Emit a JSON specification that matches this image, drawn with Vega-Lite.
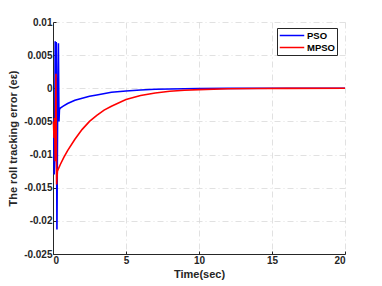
{
  "$schema": "https://vega.github.io/schema/vega-lite/v6.json",
  "autosize": "none",
  "width": 292,
  "height": 232,
  "padding": {"left": 53, "top": 22, "right": 37, "bottom": 32},
  "background": "white",
  "config": {
    "view": {"stroke": null},
    "font": "Liberation Sans",
    "axis": {
      "labelFont": "Liberation Sans", "labelFontWeight": "bold", "labelFontSize": 10, "labelColor": "#262626",
      "titleFont": "Liberation Sans", "titleFontWeight": "bold", "titleFontSize": 11, "titleColor": "#262626",
      "domainColor": "#262626", "domainWidth": 1, "tickColor": "#262626", "tickSize": -3,
      "gridColor": "#d9d9d9", "gridDash": [6, 3, 1, 3], "gridWidth": 0.8
    }
  },
  "datasets": {
    "pso": [
      {"t": 0.05, "v": -0.0047, "s": "PSO"}, {"t": 0.08, "v": -0.013, "s": "PSO"}, {"t": 0.11, "v": -0.0108, "s": "PSO"},
      {"t": 0.15, "v": 0.0071, "s": "PSO"}, {"t": 0.2, "v": -0.005, "s": "PSO"}, {"t": 0.22, "v": 0.007, "s": "PSO"},
      {"t": 0.27, "v": -0.0213, "s": "PSO"}, {"t": 0.32, "v": -0.002, "s": "PSO"}, {"t": 0.37, "v": 0.0068, "s": "PSO"},
      {"t": 0.41, "v": -0.005, "s": "PSO"}, {"t": 0.44, "v": -0.0032, "s": "PSO"}, {"t": 0.5, "v": -0.003, "s": "PSO"},
      {"t": 0.7, "v": -0.0027, "s": "PSO"}, {"t": 1.0, "v": -0.0023, "s": "PSO"}, {"t": 1.5, "v": -0.0018, "s": "PSO"},
      {"t": 2.0, "v": -0.0015, "s": "PSO"}, {"t": 2.5, "v": -0.0012, "s": "PSO"}, {"t": 3.0, "v": -0.001, "s": "PSO"},
      {"t": 4.0, "v": -0.0006, "s": "PSO"}, {"t": 5.0, "v": -0.0004, "s": "PSO"}, {"t": 6.0, "v": -0.00025, "s": "PSO"},
      {"t": 7.0, "v": -0.00015, "s": "PSO"}, {"t": 8.0, "v": -0.0001, "s": "PSO"}, {"t": 10.0, "v": -0.00004, "s": "PSO"},
      {"t": 12.0, "v": -0.00001, "s": "PSO"}, {"t": 15.0, "v": 0, "s": "PSO"}, {"t": 20.0, "v": 0, "s": "PSO"}
    ],
    "mpso": [
      {"t": 0.03, "v": -0.005, "s": "MPSO"}, {"t": 0.07, "v": -0.0075, "s": "MPSO"}, {"t": 0.11, "v": -0.0045, "s": "MPSO"},
      {"t": 0.15, "v": -0.011, "s": "MPSO"}, {"t": 0.2, "v": 0.0022, "s": "MPSO"}, {"t": 0.25, "v": -0.0145, "s": "MPSO"},
      {"t": 0.3, "v": -0.0125, "s": "MPSO"}, {"t": 0.5, "v": -0.0115, "s": "MPSO"}, {"t": 0.75, "v": -0.0104, "s": "MPSO"},
      {"t": 1.0, "v": -0.0094, "s": "MPSO"}, {"t": 1.5, "v": -0.0077, "s": "MPSO"}, {"t": 2.0, "v": -0.0062, "s": "MPSO"},
      {"t": 2.5, "v": -0.005, "s": "MPSO"}, {"t": 3.0, "v": -0.0041, "s": "MPSO"}, {"t": 3.5, "v": -0.0033, "s": "MPSO"},
      {"t": 4.0, "v": -0.0027, "s": "MPSO"}, {"t": 5.0, "v": -0.0017, "s": "MPSO"}, {"t": 6.0, "v": -0.0011, "s": "MPSO"},
      {"t": 7.0, "v": -0.0007, "s": "MPSO"}, {"t": 8.0, "v": -0.00045, "s": "MPSO"}, {"t": 9.0, "v": -0.0003, "s": "MPSO"},
      {"t": 10.0, "v": -0.0002, "s": "MPSO"}, {"t": 12.0, "v": -0.00008, "s": "MPSO"}, {"t": 14.0, "v": -0.00003, "s": "MPSO"},
      {"t": 16.0, "v": -0.00001, "s": "MPSO"}, {"t": 20.0, "v": 0, "s": "MPSO"}
    ]
  },
  "encoding": {
    "x": {"field": "t", "type": "quantitative", "scale": {"domain": [0, 20], "nice": false},
      "axis": {"values": [0, 5, 10, 15, 20], "title": "Time(sec)", "titlePadding": 3, "labelPadding": 4}},
    "y": {"field": "v", "type": "quantitative", "scale": {"domain": [-0.025, 0.01], "nice": false, "zero": false},
      "axis": {"values": [-0.025, -0.02, -0.015, -0.01, -0.005, 0, 0.005, 0.01],
        "labelExpr": "replace(format(datum.value, ''), '\u2212', '-')",
        "title": "The roll tracking error (eε)", "titlePadding": 5, "labelPadding": 4}},
    "color": {"field": "s", "type": "nominal",
      "scale": {"domain": ["PSO", "MPSO"], "range": ["#0000ff", "#ff0000"]},
      "legend": {"title": null, "orient": "none", "legendX": 224, "legendY": 6, "symbolType": "stroke",
        "symbolSize": 600, "symbolStrokeWidth": 1.5, "strokeColor": "#262626", "fillColor": "white",
        "padding": 2, "rowPadding": 1, "clipHeight": 11, "labelFont": "Liberation Sans", "labelFontWeight": "bold",
        "labelFontSize": 9.5, "labelColor": "black", "labelOffset": 2}}
  },
  "layer": [
    {"data": {"name": "pso"}, "mark": {"type": "line", "strokeWidth": 1.6}},
    {"data": {"name": "mpso"}, "mark": {"type": "line", "strokeWidth": 1.6}}
  ]
}
